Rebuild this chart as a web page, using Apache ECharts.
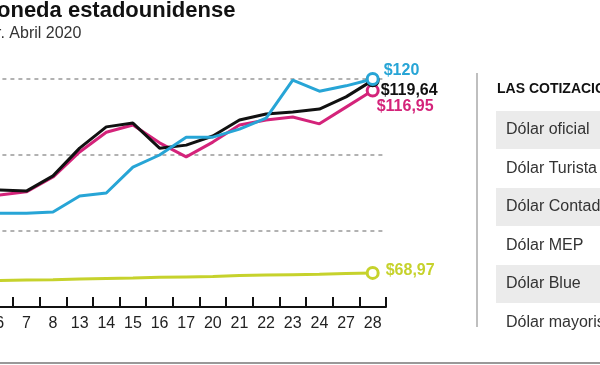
<!DOCTYPE html>
<html>
<head>
<meta charset="utf-8">
<script src="https://cdn.jsdelivr.net/npm/echarts@6/dist/echarts.min.js"></script>
<style>
html,body{margin:0;padding:0;background:#fff;overflow:hidden;}
#c{position:absolute;left:-14px;top:0;width:614px;height:365px;}
</style>
</head>
<body>
<div id="c"></div>
<script>
const categories = ['6','7','8','13','14','15','16','17','20','21','22','23','24','27','28'];
const dolarOficial = [67.0,67.1,67.2,67.4,67.5,67.6,67.8,67.9,68.0,68.3,68.4,68.5,68.6,68.8,68.97];
const dolarBlue = [84.7,84.7,85.0,89.2,90.0,96.8,100.0,104.7,104.7,106.8,109.7,119.7,116.8,118.2,120];
const dolarContado = [90.8,90.5,94.5,101.8,107.4,108.4,101.8,102.6,105.0,109.2,110.8,111.3,112.1,115.3,119.64];
const dolarMep = [89.5,90.3,94.2,100.8,106.0,107.9,103.2,99.5,103.4,107.9,109.2,110.0,108.2,112.6,116.95];
const yTicks = [60, 80, 100, 120];
const tableRows = ['Dólar oficial','Dólar Turista','Dólar Contado con liqui','Dólar MEP','Dólar Blue','Dólar mayorista'];

const FONT = '"Liberation Sans", Arial, sans-serif';
const S = 14; // container is shifted left by this many px
const fmt = v => '$' + String(v).replace('.', ',');

function mkSeries(name, vals, color, offset, z) {
  const last = vals.length - 1;
  return {
    name, type: 'line', z,
    data: vals.map((v, i) => i === last ? {
      value: v,
      label: {
        show: true, position: 'right', distance: 5, offset,
        formatter: fmt(v), color, fontFamily: FONT, fontWeight: 'bold', fontSize: 16
      }
    } : v),
    showSymbol: true,
    symbol: 'circle',
    symbolSize: (val, p) => p.dataIndex === last ? 11 : 0,
    itemStyle: { color: '#fff', borderColor: color, borderWidth: 3 },
    lineStyle: { color, width: 3 },
    clip: false,
    silent: true,
    emphasis: { disabled: true }
  };
}

const graphics = [
  { type: 'text', x: S - 3, y: 0, style: { text: 'oneda estadounidense', font: 'bold 22px ' + FONT, fill: '#111' } },
  { type: 'text', x: S - 4, y: 26, style: { text: 'r. Abril 2020', font: '16px ' + FONT, fill: '#333' } },
  { type: 'line', shape: { x1: S + 477, y1: 73, x2: S + 477, y2: 327 }, style: { stroke: '#aaa', lineWidth: 1.5 } },
  { type: 'line', shape: { x1: 0, y1: 363, x2: 620, y2: 363 }, style: { stroke: '#999', lineWidth: 2 } },
  { type: 'text', x: S + 497, y: 82, style: { text: 'LAS COTIZACIONES', font: 'bold 14px ' + FONT, fill: '#111' } }
];
tableRows.forEach((t, i) => {
  const top = 111 + i * 38.5;
  if (i % 2 === 0) {
    graphics.push({ type: 'rect', shape: { x: S + 496, y: top, width: 110, height: 38 }, style: { fill: '#ebebeb' }, z: -1 });
  }
  graphics.push({ type: 'text', x: S + 506, y: top + 19, style: { text: t, font: '16px ' + FONT, fill: '#333', verticalAlign: 'middle' } });
});

const chart = echarts.init(document.getElementById('c'), null, { renderer: 'canvas' });
chart.setOption({
  animation: false,
  backgroundColor: '#fff',
  grid: { left: 0.4, right: 214, top: 79, bottom: 58 },
  xAxis: {
    type: 'category', data: categories, boundaryGap: true,
    axisLine: { show: true, lineStyle: { color: '#111', width: 2 } },
    axisTick: { show: true, inside: true, length: 10, lineStyle: { color: '#111', width: 2 }, interval: 0 },
    axisLabel: { interval: 0, margin: 9, fontSize: 16, color: '#222', fontFamily: FONT },
    splitLine: { show: false }
  },
  yAxis: {
    type: 'value', min: yTicks[0], max: yTicks[yTicks.length - 1], interval: 20,
    axisLine: { show: false }, axisTick: { show: false }, axisLabel: { show: false },
    splitLine: { lineStyle: { color: '#999', type: [4, 4], width: 1.5 } }
  },
  series: [
    mkSeries('Dólar oficial', dolarOficial, '#c6d22c', [1, -2], 2),
    mkSeries('Dólar MEP', dolarMep, '#d4237a', [-8, 16], 3),
    mkSeries('Dólar Contado con liqui', dolarContado, '#111111', [-4, 10], 4),
    mkSeries('Dólar Blue', dolarBlue, '#27a5d6', [-1, -8], 5)
  ],
  graphic: graphics
});
</script>
</body>
</html>
